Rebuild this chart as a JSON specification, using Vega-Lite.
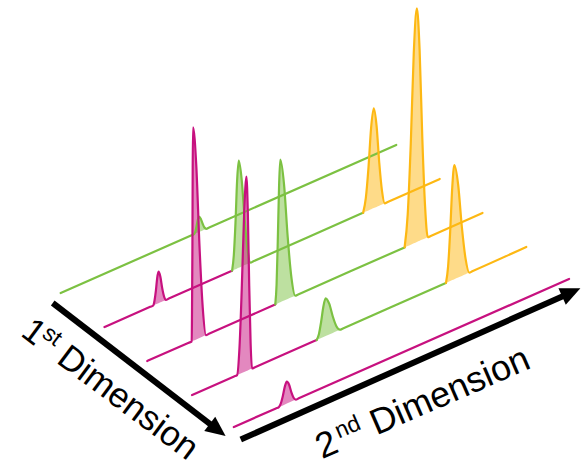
{
"$schema": "https://vega.github.io/schema/vega-lite/v6.json",
"width": 584, "height": 467, "padding": 0,
"autosize": {"type": "fit", "contains": "padding"},
"background": "white",
"config": {"view": {"stroke": null}},
"datasets": {
"traces": [
{"s":"t1","k":"g","x":61,"y":293},
{"s":"t1","k":"g","x":192,"y":235.5},
{"s":"t1","k":"g","p":"p1","x":195,"y":234.2,"b":234.2},
{"s":"t1","k":"g","p":"p1","x":196.3,"y":231.5,"b":233.6},
{"s":"t1","k":"g","p":"p1","x":197.5,"y":226.4,"b":233.1},
{"s":"t1","k":"g","p":"p1","x":198.8,"y":220.0,"b":232.5},
{"s":"t1","k":"g","p":"p1","x":200,"y":216.7,"b":232.0},
{"s":"t1","k":"g","p":"p1","x":201.8,"y":218.7,"b":231.2},
{"s":"t1","k":"g","p":"p1","x":203.7,"y":223.7,"b":230.4},
{"s":"t1","k":"g","p":"p1","x":205.5,"y":227.5,"b":229.6},
{"s":"t1","k":"g","p":"p1","x":207.3,"y":228.8,"b":228.8},
{"s":"t1","k":"g","x":210.3,"y":227.5},
{"s":"t1","k":"g","x":398.3,"y":145},

{"s":"t2a","k":"m","x":105,"y":327},
{"s":"t2a","k":"m","x":151,"y":306.8},
{"s":"t2a","k":"m","p":"p2","x":154,"y":305.5,"b":305.5},
{"s":"t2a","k":"m","p":"p2","x":155.3,"y":300.7,"b":304.9},
{"s":"t2a","k":"m","p":"p2","x":156.7,"y":290.7,"b":304.3},
{"s":"t2a","k":"m","p":"p2","x":158.0,"y":278.1,"b":303.7},
{"s":"t2a","k":"m","p":"p2","x":159.3,"y":271.7,"b":303.2},
{"s":"t2a","k":"m","p":"p2","x":161.2,"y":276.7,"b":302.3},
{"s":"t2a","k":"m","p":"p2","x":163.0,"y":287.9,"b":301.5},
{"s":"t2a","k":"m","p":"p2","x":164.9,"y":296.5,"b":300.7},
{"s":"t2a","k":"m","p":"p2","x":166.7,"y":299.9,"b":299.9},
{"s":"t2a","k":"m","x":169.7,"y":298.6},
{"s":"t2a","k":"m","x":230.3,"y":272.0},
{"s":"t2a","k":"m","x":233.3,"y":270.7},
{"s":"t2b","k":"g","p":"p3","x":233.3,"y":270.7,"b":270.7},
{"s":"t2b","k":"g","p":"p3","x":235.0,"y":255.5,"b":269.9},
{"s":"t2b","k":"g","p":"p3","x":236.7,"y":222.9,"b":269.2},
{"s":"t2b","k":"g","p":"p3","x":238.3,"y":181.3,"b":268.4},
{"s":"t2b","k":"g","p":"p3","x":240.0,"y":160.7,"b":267.7},
{"s":"t2b","k":"g","p":"p3","x":242.9,"y":179.3,"b":266.4},
{"s":"t2b","k":"g","p":"p3","x":245.9,"y":218.8,"b":265.1},
{"s":"t2b","k":"g","p":"p3","x":248.8,"y":249.5,"b":263.9},
{"s":"t2b","k":"g","p":"p3","x":251.7,"y":262.6,"b":262.6},
{"s":"t2b","k":"g","x":254.7,"y":261.3},
{"s":"t2b","k":"g","x":362,"y":214.1},
{"s":"t2b","k":"g","x":365,"y":212.8},
{"s":"t2c","k":"y","p":"p4","x":365.0,"y":212.8,"b":212.8},
{"s":"t2c","k":"y","p":"p4","x":367.7,"y":198.2,"b":211.6},
{"s":"t2c","k":"y","p":"p4","x":370.4,"y":167.3,"b":210.5},
{"s":"t2c","k":"y","p":"p4","x":373.0,"y":128.0,"b":209.3},
{"s":"t2c","k":"y","p":"p4","x":375.7,"y":108.3,"b":208.1},
{"s":"t2c","k":"y","p":"p4","x":378.5,"y":125.6,"b":206.9},
{"s":"t2c","k":"y","p":"p4","x":381.2,"y":162.5,"b":205.7},
{"s":"t2c","k":"y","p":"p4","x":384.0,"y":191.1,"b":204.5},
{"s":"t2c","k":"y","p":"p4","x":386.7,"y":203.3,"b":203.3},
{"s":"t2c","k":"y","x":389.7,"y":202.0},
{"s":"t2c","k":"y","x":442,"y":179},

{"s":"t3a","k":"m","x":148,"y":361},
{"s":"t3a","k":"m","x":189.7,"y":342.7},
{"s":"t3a","k":"m","p":"p5","x":192.7,"y":341.4,"b":341.4},
{"s":"t3a","k":"m","p":"p5","x":193.0,"y":312.5,"b":341.2},
{"s":"t3a","k":"m","p":"p5","x":193.4,"y":248.7,"b":341.1},
{"s":"t3a","k":"m","p":"p5","x":193.7,"y":167.0,"b":340.9},
{"s":"t3a","k":"m","p":"p5","x":194.0,"y":127.3,"b":340.8},
{"s":"t3a","k":"m","p":"p5","x":197.3,"y":165.5,"b":339.4},
{"s":"t3a","k":"m","p":"p5","x":200.5,"y":245.5,"b":337.9},
{"s":"t3a","k":"m","p":"p5","x":203.8,"y":307.8,"b":336.5},
{"s":"t3a","k":"m","p":"p5","x":207.0,"y":335.1,"b":335.1},
{"s":"t3a","k":"m","x":210,"y":333.8},
{"s":"t3a","k":"m","x":273.7,"y":305.8},
{"s":"t3a","k":"m","x":276.7,"y":304.5},
{"s":"t3b","k":"g","p":"p6","x":276.7,"y":304.5,"b":304.5},
{"s":"t3b","k":"g","p":"p6","x":278.0,"y":284.7,"b":303.9},
{"s":"t3b","k":"g","p":"p6","x":279.2,"y":241.6,"b":303.4},
{"s":"t3b","k":"g","p":"p6","x":280.5,"y":186.5,"b":302.8},
{"s":"t3b","k":"g","p":"p6","x":281.7,"y":159.5,"b":302.3},
{"s":"t3b","k":"g","p":"p6","x":285.5,"y":184.3,"b":300.6},
{"s":"t3b","k":"g","p":"p6","x":289.2,"y":237.2,"b":299.0},
{"s":"t3b","k":"g","p":"p6","x":293.0,"y":278.2,"b":297.3},
{"s":"t3b","k":"g","p":"p6","x":296.7,"y":295.7,"b":295.7},
{"s":"t3b","k":"g","x":299.7,"y":294.4},
{"s":"t3b","k":"g","x":403.7,"y":248.7},
{"s":"t3b","k":"g","x":406.7,"y":247.4},
{"s":"t3c","k":"y","p":"p7","x":406.7,"y":247.4,"b":247.4},
{"s":"t3c","k":"y","p":"p7","x":409.8,"y":214.6,"b":246.0},
{"s":"t3c","k":"y","p":"p7","x":412.9,"y":143.5,"b":244.7},
{"s":"t3c","k":"y","p":"p7","x":415.9,"y":53.0,"b":243.3},
{"s":"t3c","k":"y","p":"p7","x":419.0,"y":8.3,"b":242.0},
{"s":"t3c","k":"y","p":"p7","x":421.8,"y":50.4,"b":240.8},
{"s":"t3c","k":"y","p":"p7","x":424.5,"y":138.4,"b":239.6},
{"s":"t3c","k":"y","p":"p7","x":427.3,"y":206.9,"b":238.4},
{"s":"t3c","k":"y","p":"p7","x":430.0,"y":237.2,"b":237.2},
{"s":"t3c","k":"y","x":433,"y":235.9},
{"s":"t3c","k":"y","x":485,"y":213},

{"s":"t4a","k":"m","x":193,"y":395},
{"s":"t4a","k":"m","x":235.3,"y":376.4},
{"s":"t4a","k":"m","p":"p8","x":238.3,"y":375.1,"b":375.1},
{"s":"t4a","k":"m","p":"p8","x":240.7,"y":348.0,"b":374.1},
{"s":"t4a","k":"m","p":"p8","x":243.0,"y":288.9,"b":373.0},
{"s":"t4a","k":"m","p":"p8","x":245.4,"y":213.8,"b":372.0},
{"s":"t4a","k":"m","p":"p8","x":247.7,"y":176.7,"b":371.0},
{"s":"t4a","k":"m","p":"p8","x":249.1,"y":212.1,"b":370.4},
{"s":"t4a","k":"m","p":"p8","x":250.5,"y":285.6,"b":369.8},
{"s":"t4a","k":"m","p":"p8","x":251.9,"y":343.0,"b":369.1},
{"s":"t4a","k":"m","p":"p8","x":253.3,"y":368.5,"b":368.5},
{"s":"t4a","k":"m","x":256.3,"y":367.2},
{"s":"t4a","k":"m","x":315.3,"y":341.3},
{"s":"t4a","k":"m","x":318.3,"y":340.0},
{"s":"t4b","k":"g","p":"p9","x":318.3,"y":340.0,"b":340.0},
{"s":"t4b","k":"g","p":"p9","x":320.6,"y":333.9,"b":339.0},
{"s":"t4b","k":"g","p":"p9","x":322.8,"y":321.7,"b":338.0},
{"s":"t4b","k":"g","p":"p9","x":325.1,"y":306.3,"b":337.0},
{"s":"t4b","k":"g","p":"p9","x":327.3,"y":298.3,"b":336.0},
{"s":"t4b","k":"g","p":"p9","x":330.9,"y":303.7,"b":334.4},
{"s":"t4b","k":"g","p":"p9","x":334.5,"y":316.5,"b":332.9},
{"s":"t4b","k":"g","p":"p9","x":338.1,"y":326.2,"b":331.3},
{"s":"t4b","k":"g","p":"p9","x":341.7,"y":329.7,"b":329.7},
{"s":"t4b","k":"g","x":344.7,"y":328.4},
{"s":"t4b","k":"g","x":445.3,"y":284.2},
{"s":"t4b","k":"g","x":448.3,"y":282.9},
{"s":"t4c","k":"y","p":"p10","x":448.3,"y":282.9,"b":282.9},
{"s":"t4c","k":"y","p":"p10","x":450.4,"y":266.6,"b":282.0},
{"s":"t4c","k":"y","p":"p10","x":452.5,"y":231.6,"b":281.0},
{"s":"t4c","k":"y","p":"p10","x":454.6,"y":187.1,"b":280.1},
{"s":"t4c","k":"y","p":"p10","x":456.7,"y":165.0,"b":279.2},
{"s":"t4c","k":"y","p":"p10","x":460.5,"y":184.5,"b":277.5},
{"s":"t4c","k":"y","p":"p10","x":464.2,"y":226.5,"b":275.9},
{"s":"t4c","k":"y","p":"p10","x":468.0,"y":258.9,"b":274.2},
{"s":"t4c","k":"y","p":"p10","x":471.7,"y":272.6,"b":272.6},
{"s":"t4c","k":"y","x":474.7,"y":271.3},
{"s":"t4c","k":"y","x":529,"y":247},

{"s":"t5","k":"m","x":235,"y":427},
{"s":"t5","k":"m","x":277.3,"y":408.4},
{"s":"t5","k":"m","p":"p11","x":280.3,"y":407.1,"b":407.1},
{"s":"t5","k":"m","p":"p11","x":282.3,"y":403.3,"b":406.2},
{"s":"t5","k":"m","p":"p11","x":284.3,"y":395.9,"b":405.4},
{"s":"t5","k":"m","p":"p11","x":286.3,"y":386.6,"b":404.5},
{"s":"t5","k":"m","p":"p11","x":288.3,"y":381.7,"b":403.6},
{"s":"t5","k":"m","p":"p11","x":290.6,"y":384.8,"b":402.6},
{"s":"t5","k":"m","p":"p11","x":292.8,"y":392.1,"b":401.6},
{"s":"t5","k":"m","p":"p11","x":295.1,"y":397.7,"b":400.6},
{"s":"t5","k":"m","p":"p11","x":297.3,"y":399.6,"b":399.6},
{"s":"t5","k":"m","x":300.3,"y":398.3},
{"s":"t5","k":"m","x":572,"y":279}
],
"shafts": [
{"a":"first","x":53,"y":303},
{"a":"first","x":218.8,"y":429.9},
{"a":"second","x":242,"y":439.5},
{"a":"second","x":574.2,"y":292.4}
]
},
"encoding": {
"x": {"field":"x","type":"quantitative","scale":{"domain":[0,584],"nice":false,"zero":false},"axis":null},
"y": {"field":"y","type":"quantitative","stack":null,"scale":{"domain":[0,467],"nice":false,"zero":false,"reverse":true},"axis":null}
},
"layer": [
{"data":{"name":"traces"},
 "transform":[{"filter":"isValid(datum.p)"}],
 "mark":{"type":"area","interpolate":"monotone","opacity":0.5},
 "encoding":{
  "y2":{"field":"b"},
  "color":{"field":"k","type":"nominal","scale":{"domain":["m","g","y"],"range":["#c7117f","#7cc142","#fdb813"]},"legend":null},
  "detail":{"field":"p"}}},
{"data":{"name":"traces"},
 "mark":{"type":"line","interpolate":"monotone","strokeWidth":2.2,"strokeJoin":"round","strokeCap":"round"},
 "encoding":{
  "color":{"field":"k","type":"nominal","scale":{"domain":["m","g","y"],"range":["#c7117f","#7cc142","#fdb813"]},"legend":null},
  "detail":{"field":"s"}}},
{"data":{"name":"shafts"},
 "mark":{"type":"line","strokeWidth":6,"color":"black","strokeCap":"butt"},
 "encoding":{"detail":{"field":"a"}}},
{"data":{"values":[{"x":218.8,"y":429.9}]},
 "mark":{"type":"point","shape":"M0,-1L0.9,1L-0.9,1Z","size":400,"angle":127.6,"filled":true,"color":"black","opacity":1,"strokeWidth":0},
 "encoding":{}},
{"data":{"values":[{"x":574.2,"y":292.4}]},
 "mark":{"type":"point","shape":"M0,-1L0.9,1L-0.9,1Z","size":400,"angle":66,"filled":true,"color":"black","opacity":1,"strokeWidth":0},
 "encoding":{}},
{"data":{"values":[{"x":19.5,"y":335,"t":"1"},{"x":55.5,"y":362,"t":"Dimension"}]},
 "mark":{"type":"text","font":"Liberation Sans","fontSize":35,"angle":36.8,"align":"left","baseline":"alphabetic","color":"black"},
 "encoding":{"text":{"field":"t"}}},
{"data":{"values":[{"x":41.1,"y":336.2,"t":"st"}]},
 "mark":{"type":"text","font":"Liberation Sans","fontSize":23,"angle":36.8,"align":"left","baseline":"alphabetic","color":"black"},
 "encoding":{"text":{"field":"t"}}},
{"data":{"values":[{"x":323.7,"y":459.2,"t":"2"},{"x":378.4,"y":435.4,"t":"Dimension"}]},
 "mark":{"type":"text","font":"Liberation Sans","fontSize":36,"angle":-23.5,"align":"left","baseline":"alphabetic","color":"black"},
 "encoding":{"text":{"field":"t"}}},
{"data":{"values":[{"x":340.6,"y":438.8,"t":"nd"}]},
 "mark":{"type":"text","font":"Liberation Sans","fontSize":23,"angle":-23.5,"align":"left","baseline":"alphabetic","color":"black"},
 "encoding":{"text":{"field":"t"}}}
]
}
